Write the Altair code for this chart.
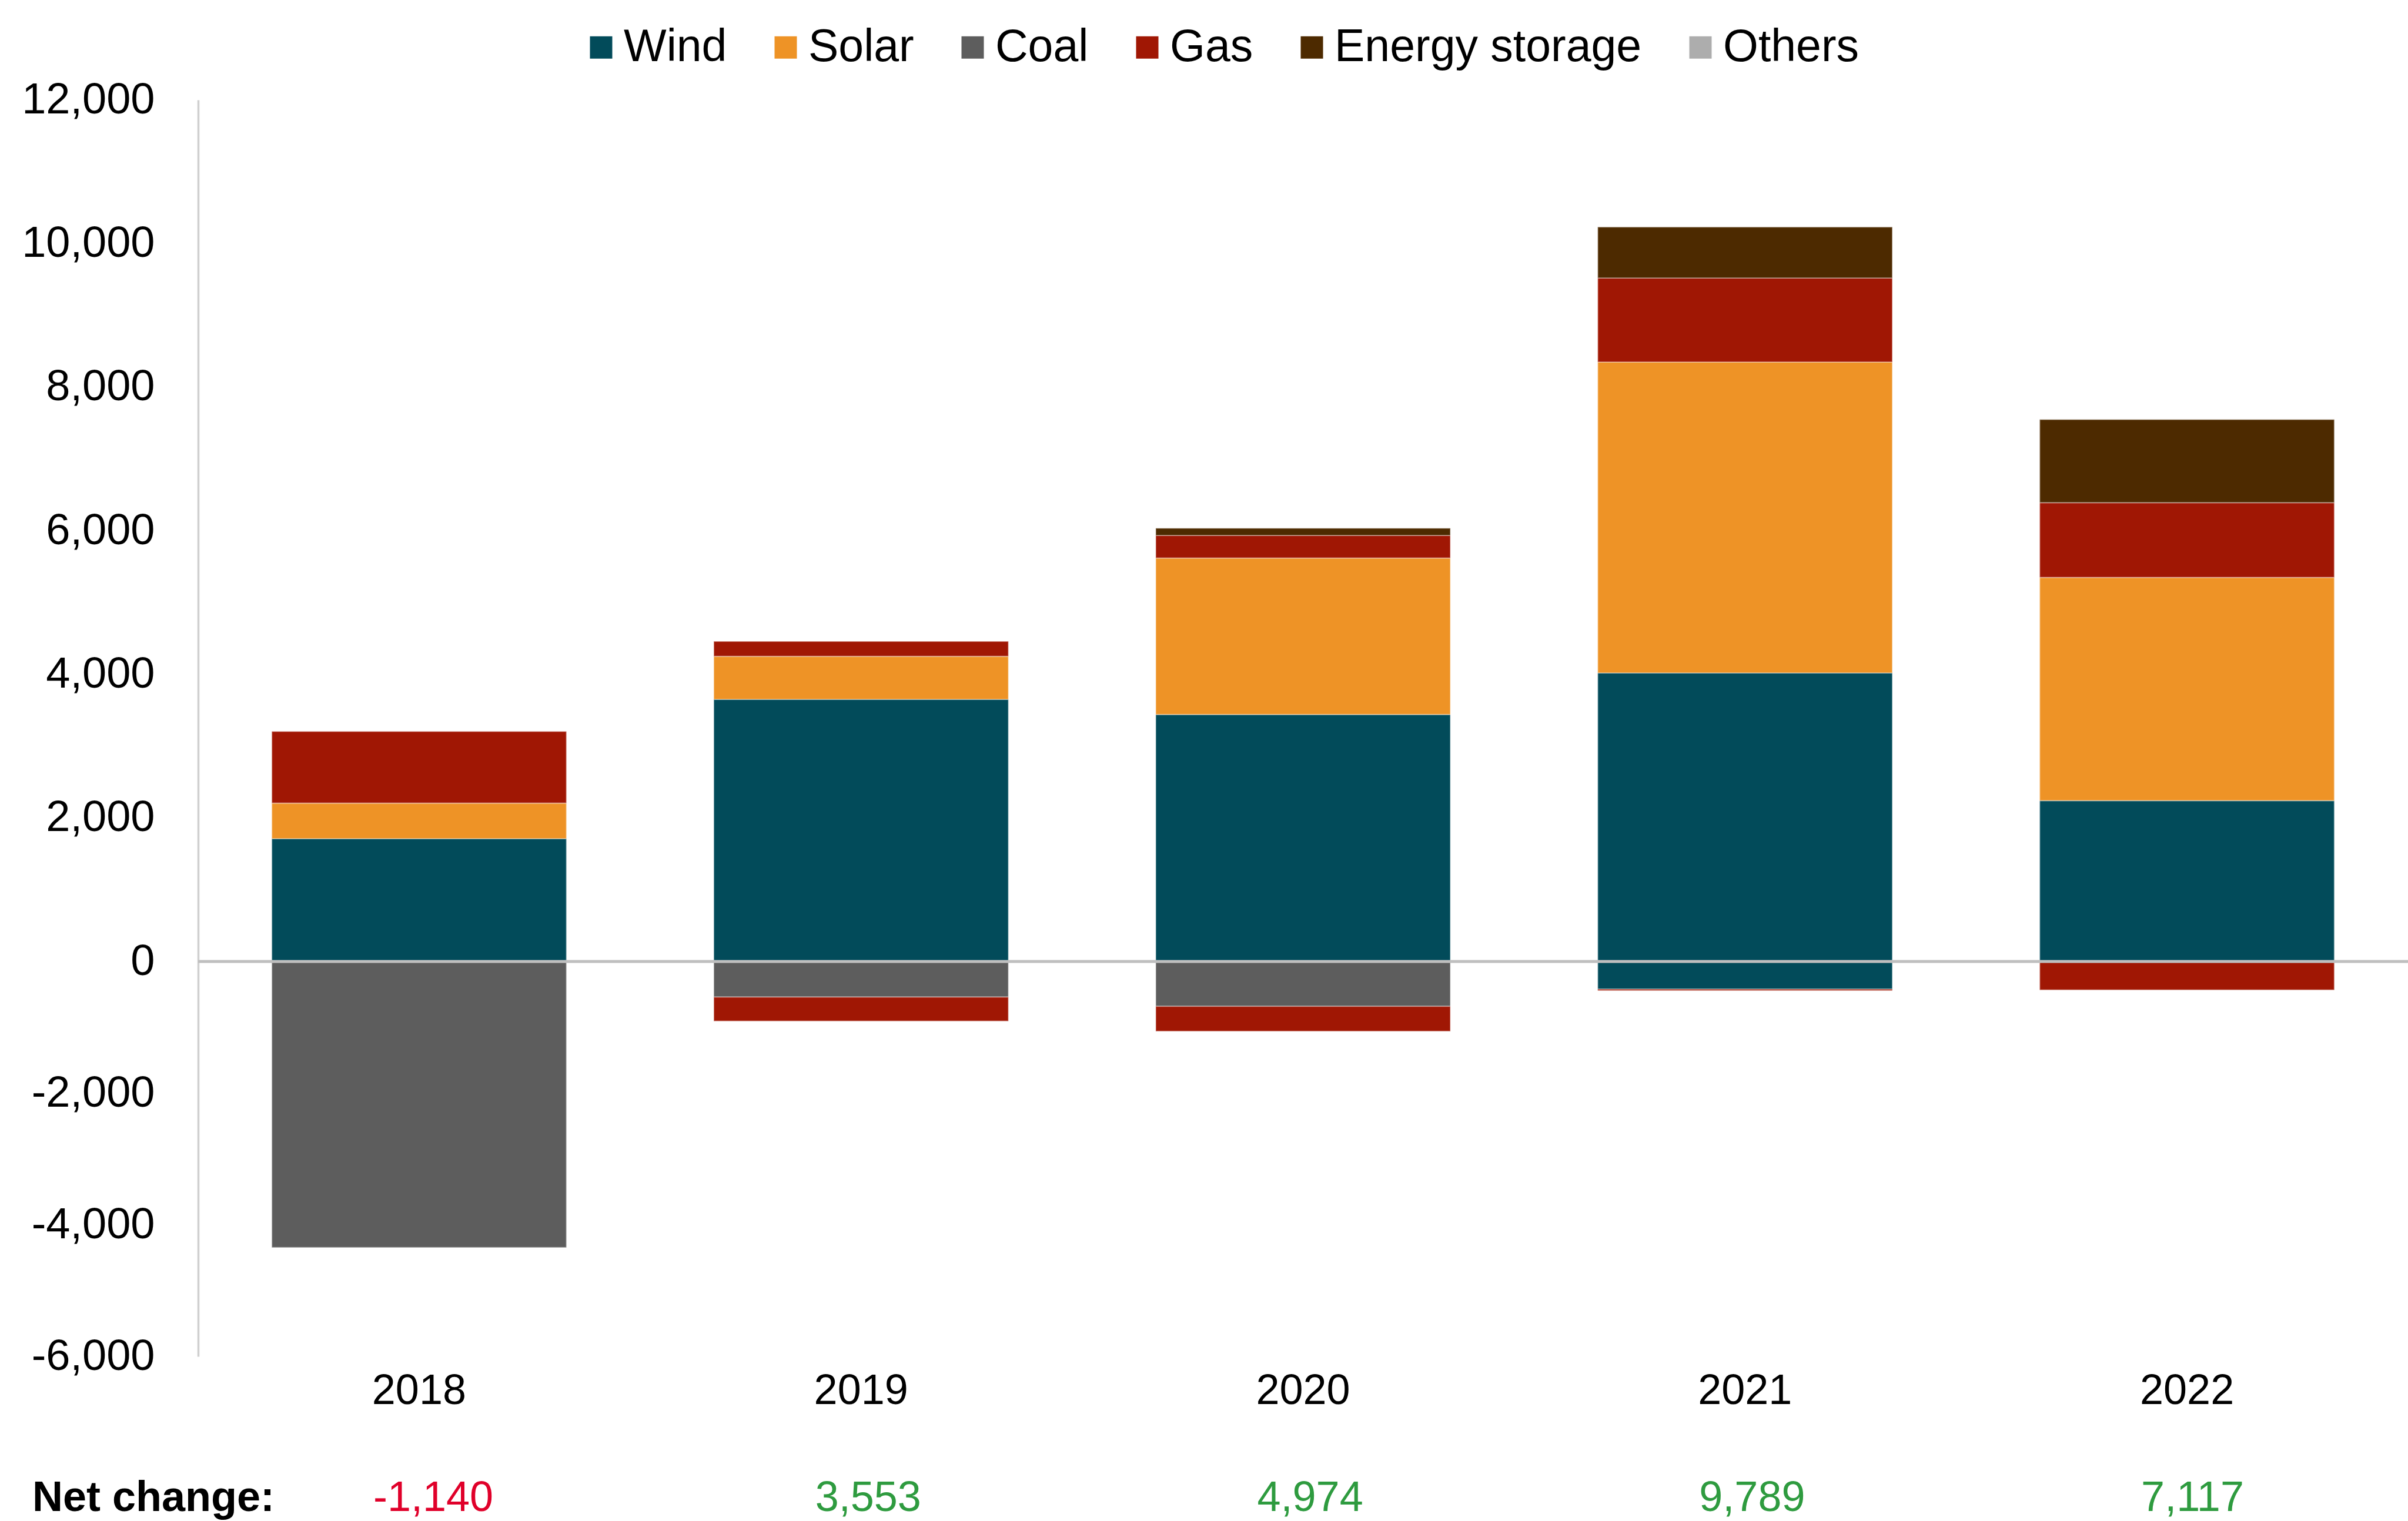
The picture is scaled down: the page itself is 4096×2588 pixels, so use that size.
import altair as alt
import pandas as pd

# ---------------- data ----------------
years = ["2018", "2019", "2020", "2021", "2022"]
sources = ["Wind", "Solar", "Coal", "Gas", "Energy storage", "Others"]
source_colors = ["#024B5A", "#EE9326", "#5D5D5D", "#A01704", "#4D2A00", "#ADADAD"]

wind_add = [1710, 3650, 3440, 4020, 2240]
solar_add = [495, 600, 2180, 4330, 3110]
gas_add = [1000, 210, 315, 1170, 1040]
storage_add = [0, 0, 100, 710, 1160]
wind_retire = [0, 0, 0, -420, 0]
coal_retire = [-4345, -540, -680, 0, 0]
gas_retire = [0, -367, -381, -21, -433]

net_change = [-1140, 3553, 4974, 9789, 7117]
y_ticks = [-6000, -4000, -2000, 0, 2000, 4000, 6000, 8000, 10000, 12000]

series = [
    ("Wind", 0, wind_add), ("Solar", 1, solar_add), ("Gas", 3, gas_add),
    ("Energy storage", 4, storage_add), ("Wind", 0, wind_retire),
    ("Coal", 2, coal_retire), ("Gas", 3, gas_retire),
]
rows = []
for name, ordv, vals in series:
    for yr, v in zip(years, vals):
        if v != 0:
            rows.append({"year": yr, "source": name, "value": v, "ord": ordv})
bars_df = pd.DataFrame(rows)

net_df = pd.DataFrame({
    "year": years,
    "net": net_change,
    "label": [f"{v:,}" for v in net_change],
})
zero_df = pd.DataFrame({"v": [0]})
title_df = pd.DataFrame({"t": ["Net change:"]})

# ---------------- layout ----------------
FONT = "Liberation Sans"
W, H = 3759, 2138
Y0 = 1466  # pixel position of zero inside the plot area

yscale = alt.Scale(domain=[-6000, 0, 12000], range=[H, Y0, 0], nice=False, zero=False)
xscale = alt.Scale(domain=years, paddingInner=1 / 3, paddingOuter=1 / 6)

bars = alt.Chart(bars_df).mark_bar(
    stroke="#FFFFFF", strokeWidth=2, strokeOpacity=0.35
).encode(
    x=alt.X("year:N", scale=xscale,
            axis=alt.Axis(title=None, labelAngle=0, ticks=False, domain=False,
                          labelFontSize=72, labelFont=FONT, labelColor="#000000",
                          labelPadding=23, labelLimit=0)),
    y=alt.Y("value:Q", stack="zero", scale=yscale,
            axis=alt.Axis(title=None, values=y_ticks, ticks=False, grid=False,
                          domain=True, domainColor="#D0D0D0", domainWidth=3.5,
                          labelFontSize=74, labelFont=FONT, labelColor="#000000",
                          labelPadding=74, labelLimit=0,
                          labelExpr="datum.value < 0 ? '-' + format(-datum.value, ',') : format(datum.value, ',')")),
    color=alt.Color("source:N",
                    scale=alt.Scale(domain=sources, range=source_colors),
                    legend=alt.Legend(orient="none", legendX=647, legendY=-128,
                                      direction="horizontal", columns=6, title=None,
                                      symbolType="square", symbolSize=1444,
                                      symbolStrokeWidth=0,
                                      labelFontSize=77, labelFont=FONT,
                                      labelColor="#000000", labelLimit=2000,
                                      labelOffset=0, columnPadding=61, padding=0)),
    order=alt.Order("ord:Q"),
)

zero_rule = alt.Chart(zero_df).mark_rule(color="#BFBFBF", strokeWidth=5).encode(
    y=alt.Y("v:Q", scale=yscale)
)

net_text = alt.Chart(net_df).mark_text(
    align="left", baseline="alphabetic", dx=-78, fontSize=72, font=FONT
).encode(
    x=alt.X("year:N", scale=xscale),
    y=alt.value(2401),
    text="label:N",
    color=alt.condition("datum.net < 0", alt.value("#E0002A"), alt.value("#2E9B3F")),
)

net_title = alt.Chart(title_df).mark_text(
    align="left", baseline="alphabetic", fontSize=72, font=FONT,
    fontWeight="bold", color="#000000"
).encode(
    x=alt.value(-282),
    y=alt.value(2401),
    text="t:N",
)

chart = alt.layer(bars, zero_rule, net_text, net_title).properties(
    width=W, height=H,
    autosize=alt.AutoSizeParams(type="none"),
    padding={"left": 337, "top": 170, "right": 0, "bottom": 280},
    background="#FFFFFF",
).configure_view(stroke=None)

chart.save("out.html", embed_options={"renderer": "svg", "actions": False})
